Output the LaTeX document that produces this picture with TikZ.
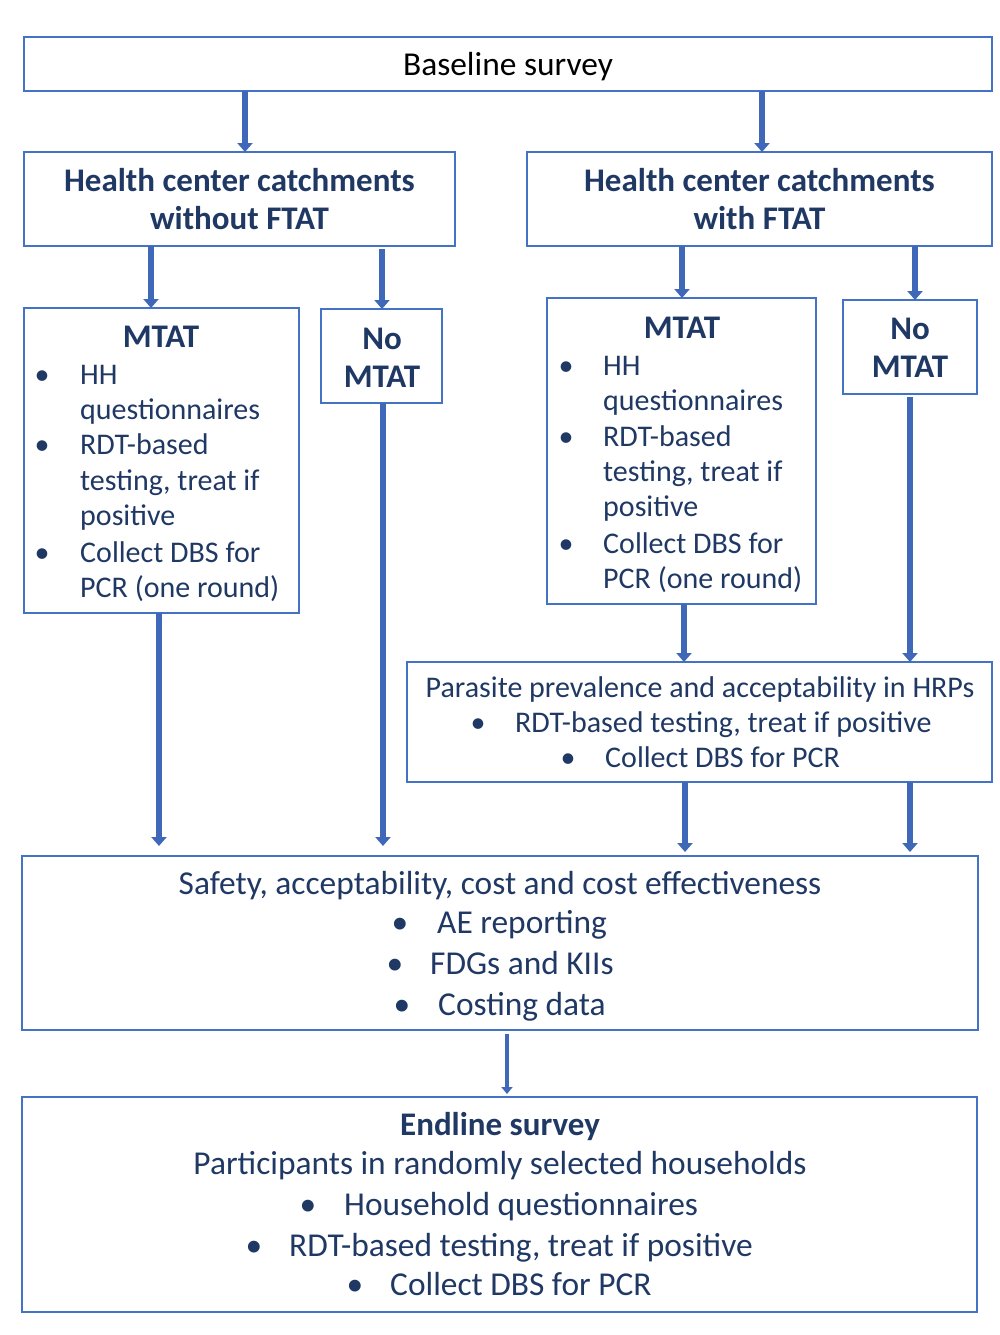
\documentclass[tikz,border=0pt]{standalone}
\usepackage{fontspec}
\setmainfont{Carlito}
\usetikzlibrary{arrows.meta}
\definecolor{boxblue}{HTML}{4472C4}
\definecolor{arrblue}{HTML}{3F69B8}
\definecolor{navy}{HTML}{1F3864}
\begin{document}
\begin{tikzpicture}[x=1pt,y=-1pt,
  box/.style={draw=boxblue, line width=2pt, inner sep=0pt, outer sep=0pt, minimum width=#1},
  txt/.style={inner sep=0pt, text=navy, font=\fontsize{30}{36}\selectfont},
  txtL/.style={inner sep=0pt, text=navy, font=\fontsize{33.4}{40}\selectfont},
  hd/.style={inner sep=0pt, text=navy, font=\fontsize{33}{38}\bfseries\selectfont},
  arr/.style={draw=arrblue, line width=6pt, -{Triangle[width=15pt,length=9pt]}},
  thinarr/.style={draw=arrblue, line width=4pt, -{Triangle[width=11pt,length=7pt]}}]
\useasboundingbox (0,0) rectangle (1000,1335);
% boxes
\node[box=968, minimum height=54] (base) at (508,64) {};
\node[box=431, minimum height=94] (hcl) at (239.5,199) {};
\node[box=465, minimum height=94] (hcr) at (759.5,199) {};
\node[box=275, minimum height=305] (mtl) at (161.5,460.5) {};
\node[box=121, minimum height=94] (nml) at (381.5,356) {};
\node[box=269, minimum height=306] (mtr) at (681.5,451) {};
\node[box=134, minimum height=94] (nmr) at (910,347) {};
\node[box=585, minimum height=120] (hrp) at (699.5,722) {};
\node[box=956, minimum height=174] (saf) at (500,943) {};
\node[box=955, minimum height=215] (endl) at (499.5,1204.5) {};
% texts
\node[txtL, text=black, anchor=base] (tbase) at (508,76) {Baseline survey};
\node[hd, anchor=base] (thcl1) at (239.5,191) {Health center catchments};
\node[hd, anchor=base] (thcl2) at (239.5,229) {without FTAT};
\node[hd, anchor=base] (thcr1) at (759.5,191) {Health center catchments};
\node[hd, anchor=base] (thcr2) at (759.5,229) {with FTAT};
% left MTAT
\node[hd, anchor=base] (tmtl) at (161,347) {MTAT};
\node[txt, anchor=base] (bl1) at (42,384) {\textbullet};
\node[txt, anchor=base west] (l1) at (80,384) {HH};
\node[txt, anchor=base west] (l2) at (80,419) {questionnaires};
\node[txt, anchor=base] (bl2) at (42,454) {\textbullet};
\node[txt, anchor=base west] (l3) at (80,454) {RDT-based};
\node[txt, anchor=base west] (l4) at (80,490) {testing, treat if};
\node[txt, anchor=base west] (l5) at (80,525) {positive};
\node[txt, anchor=base] (bl3) at (42,562) {\textbullet};
\node[txt, anchor=base west] (l6) at (80,562) {Collect DBS for};
\node[txt, anchor=base west] (l7) at (80,597) {PCR (one round)};
% left No MTAT
\node[hd, anchor=base] (tnml1) at (382,349) {No};
\node[hd, anchor=base] (tnml2) at (382,387) {MTAT};
% right MTAT
\node[hd, anchor=base] (tmtr) at (682,338) {MTAT};
\node[txt, anchor=base] (br1) at (566,375) {\textbullet};
\node[txt, anchor=base west] (r1) at (603,375) {HH};
\node[txt, anchor=base west] (r2) at (603,410) {questionnaires};
\node[txt, anchor=base] (br2) at (566,446) {\textbullet};
\node[txt, anchor=base west] (r3) at (603,446) {RDT-based};
\node[txt, anchor=base west] (r4) at (603,481) {testing, treat if};
\node[txt, anchor=base west] (r5) at (603,516) {positive};
\node[txt, anchor=base] (br3) at (566,553) {\textbullet};
\node[txt, anchor=base west] (r6) at (603,553) {Collect DBS for};
\node[txt, anchor=base west] (r7) at (603,588) {PCR (one round)};
% right No MTAT
\node[hd, anchor=base] (tnmr1) at (910,339) {No};
\node[hd, anchor=base] (tnmr2) at (910,377) {MTAT};
% HRP
\node[txt, anchor=base] (th1) at (700,697) {Parasite prevalence and acceptability in HRPs};
\node[txt, anchor=base] (bh1) at (478,732) {\textbullet};
\node[txt, anchor=base west] (th2) at (515,732) {RDT-based testing, treat if positive};
\node[txt, anchor=base] (bh2) at (568,767) {\textbullet};
\node[txt, anchor=base west] (th3) at (605,767) {Collect DBS for PCR};
% safety
\node[txtL, anchor=base] (ts1) at (500,894) {Safety, acceptability, cost and cost effectiveness};
\node[txtL, anchor=base] (bs1) at (400,933) {\textbullet};
\node[txtL, anchor=base west] (ts2) at (437,933) {AE reporting};
\node[txtL, anchor=base] (bs2) at (395,974) {\textbullet};
\node[txtL, anchor=base west] (ts3) at (430,974) {FDGs and KIIs};
\node[txtL, anchor=base] (bs3) at (402,1015) {\textbullet};
\node[txtL, anchor=base west] (ts4) at (438,1015) {Costing data};
% endline
\node[hd, anchor=base] (te1) at (500,1135) {Endline survey};
\node[txtL, anchor=base] (te2) at (500,1174) {Participants in randomly selected households};
\node[txtL, anchor=base] (be1) at (308,1215) {\textbullet};
\node[txtL, anchor=base west] (te3) at (344,1215) {Household questionnaires};
\node[txtL, anchor=base] (be2) at (254,1256) {\textbullet};
\node[txtL, anchor=base west] (te4) at (289,1256) {RDT-based testing, treat if positive};
\node[txtL, anchor=base] (be3) at (355,1295) {\textbullet};
\node[txtL, anchor=base west] (te5) at (390,1295) {Collect DBS for PCR};
% arrow x positions
\coordinate (xa) at (245,0);
\coordinate (xb) at (762,0);
\coordinate (xc) at (151,0);
\coordinate (xd) at (382,0);
\coordinate (xe) at (682,0);
\coordinate (xf) at (915,0);
\coordinate (xg) at (684,0);
\coordinate (xh) at (910,0);
\coordinate (xi) at (159,0);
\coordinate (xj) at (383,0);
\coordinate (xk) at (685,0);
\coordinate (xl) at (507,0);
% arrows
\draw[arr] (base.south -| xa) -- (hcl.north -| xa);
\draw[arr] (base.south -| xb) -- (hcr.north -| xb);
\draw[arr] (hcl.south -| xc) -- (mtl.north -| xc);
\draw[arr, shorten <=3pt] (hcl.south -| xd) -- (nml.north -| xd);
\draw[arr] (hcr.south -| xe) -- (mtr.north -| xe);
\draw[arr] (hcr.south -| xf) -- (nmr.north -| xf);
\draw[arr] (mtr.south -| xg) -- (hrp.north -| xg);
\draw[arr, shorten <=3pt] (nmr.south -| xh) -- (hrp.north -| xh);
\draw[arr, shorten >=10pt] (mtl.south -| xi) -- (saf.north -| xi);
\draw[arr, shorten >=10pt] (nml.south -| xj) -- (saf.north -| xj);
\draw[arr, shorten >=4pt] (hrp.south -| xk) -- (saf.north -| xk);
\draw[arr, shorten >=4pt] (hrp.south -| xh) -- (saf.north -| xh);
\draw[thinarr, shorten <=4pt, shorten >=3pt] (saf.south -| xl) -- (endl.north -| xl);
\end{tikzpicture}
\end{document}
